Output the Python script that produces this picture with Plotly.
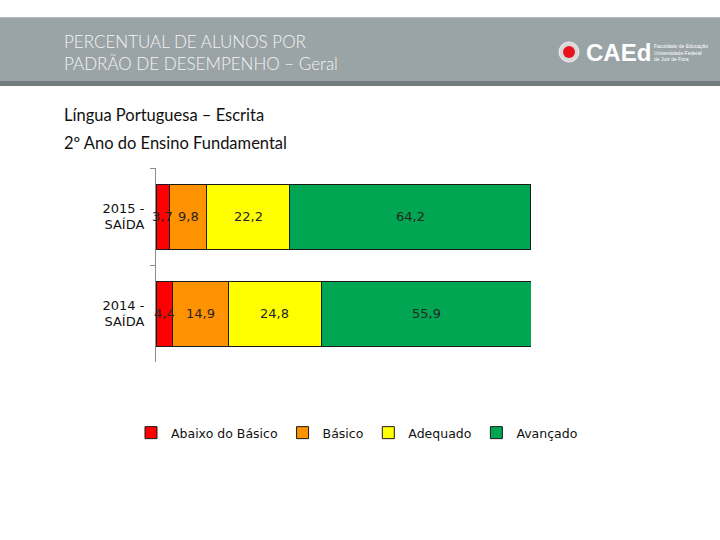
import plotly.graph_objects as go

W, H = 720, 540

categorias = ["2015 -<br>SAÍDA", "2014 -<br>SAÍDA"]
padroes = ["Abaixo do Básico", "Básico", "Adequado", "Avançado"]
cores = ["#ff0000", "#ff9200", "#ffff00", "#00a651"]

abaixo = [3.7, 4.4]
basico = [9.8, 14.9]
adequado = [22.2, 24.8]
avancado = [64.2, 55.9]

series = [abaixo, basico, adequado, avancado]


def px(x):
    return x / W


def py(y):
    return 1 - y / H


fig = go.Figure()

for nome, cor, valores in zip(padroes, cores, series):
    fig.add_trace(go.Bar(
        y=categorias,
        x=valores,
        orientation="h",
        name=nome,
        marker=dict(color=cor, line=dict(color="#1a1a1a", width=1)),
        hoverinfo="x+name",
    ))

# rotulos no centro de cada segmento
for i, cat in enumerate(categorias):
    acumulado = 0
    for valores in series:
        v = valores[i]
        fig.add_annotation(
            x=acumulado + v / 2, y=cat, xref="x", yref="y",
            text=f"{v:.1f}".replace(".", ","), showarrow=False,
            font=dict(family="DejaVu Sans", size=13, color="#262626"),
        )
        acumulado += v

# faixa do cabecalho
fig.add_shape(type="rect", xref="paper", yref="paper",
              x0=0, x1=1, y0=py(86), y1=py(81),
              fillcolor="#737d80", line_width=0, layer="below")
fig.add_shape(type="rect", xref="paper", yref="paper",
              x0=0, x1=1, y0=py(81), y1=py(17),
              fillcolor="#9aa3a6", line_width=0, layer="below")
fig.add_shape(type="line", xref="paper", yref="paper",
              x0=0, x1=1, y0=py(17.5), y1=py(17.5),
              line=dict(color="#b4bbbd", width=1))

fig.add_annotation(
    x=px(62), y=py(52), xref="paper", yref="paper",
    text="PERCENTUAL DE ALUNOS POR<br>PADRÃO DE DESEMPENHO – Geral",
    showarrow=False, xanchor="left", yanchor="middle", align="left",
    font=dict(family="Lato", size=17, color="#f4f4f4", weight=300),
)

# logo
fig.add_shape(type="circle", xref="paper", yref="paper",
              x0=px(559), x1=px(579), y0=py(62), y1=py(42),
              fillcolor="#d9d9d9", line=dict(color="#eeeeee", width=1))
fig.add_shape(type="circle", xref="paper", yref="paper",
              x0=px(563), x1=px(575), y0=py(58), y1=py(46),
              fillcolor="#e8141b", line_width=0)
fig.add_annotation(
    x=px(584), y=py(53), xref="paper", yref="paper", text="<b>CAEd</b>",
    showarrow=False, xanchor="left", yanchor="middle",
    font=dict(family="Liberation Sans", size=24, color="#ffffff"),
)
fig.add_annotation(
    x=px(652), y=py(53), xref="paper", yref="paper",
    text="Faculdade de Educação<br>Universidade Federal<br>de Juiz de Fora",
    showarrow=False, xanchor="left", yanchor="middle", align="left",
    font=dict(family="Liberation Sans", size=5, color="#ffffff"),
)

fig.add_annotation(
    x=px(62), y=py(115), xref="paper", yref="paper",
    text="Língua Portuguesa – Escrita", showarrow=False,
    xanchor="left", yanchor="middle",
    font=dict(family="Lato", size=16.5, color="#111111"),
)
fig.add_annotation(
    x=px(62), y=py(143), xref="paper", yref="paper",
    text="2º Ano do Ensino Fundamental", showarrow=False,
    xanchor="left", yanchor="middle",
    font=dict(family="Lato", size=16.5, color="#111111"),
)

fig.update_layout(
    width=W, height=H,
    margin=dict(l=0, r=0, t=0, b=0),
    paper_bgcolor="#ffffff", plot_bgcolor="rgba(0,0,0,0)",
    barmode="stack", bargap=0.33,
    showlegend=True,
    legend=dict(
        orientation="h", x=px(357), xanchor="center",
        y=py(433), yanchor="middle",
        font=dict(family="DejaVu Sans", size=12.5, color="#111111"),
        itemwidth=30, traceorder="normal",
        bgcolor="rgba(0,0,0,0)",
    ),
    xaxis=dict(
        domain=[px(156), px(531)], range=[0, 100],
        visible=False, fixedrange=True,
    ),
    yaxis=dict(
        domain=[py(362), py(168)], autorange="reversed",
        showline=True, linecolor="#8c8c8c", linewidth=1,
        ticks="outside", ticklen=5, tickcolor="#8c8c8c",
        tickson="boundaries", showgrid=False, zeroline=False,
        ticklabelstandoff=8,
        tickfont=dict(family="DejaVu Sans", size=13, color="#111111"),
        fixedrange=True,
    ),
)

fig.write_html("out.html", config={"displayModeBar": False},
               post_script="document.body.style.margin='0';")
